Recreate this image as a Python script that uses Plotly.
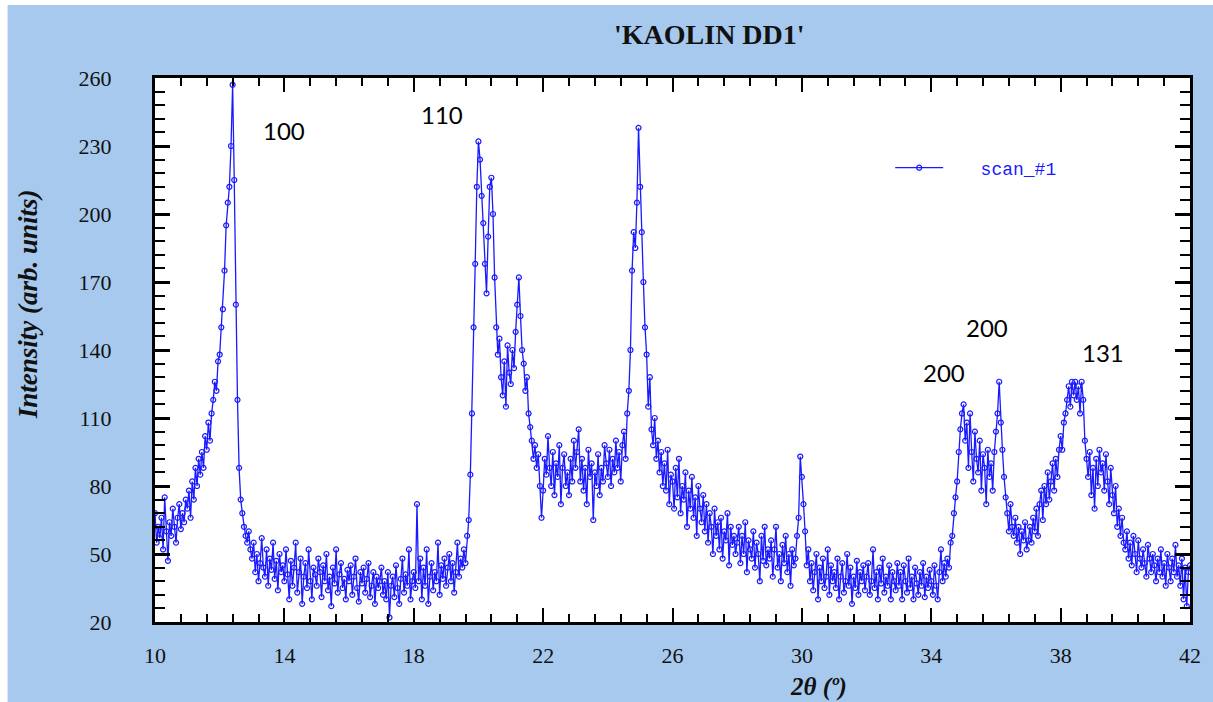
import numpy as np
import plotly.graph_objects as go

# ---- data: XRD scan, 2theta from 10 to 42 deg, step 0.05 ----
theta_start = 10.0
theta_step = 0.05

i10 = [68, 55, 62, 57, 66, 52, 75, 60, 47, 64, 58, 70, 62, 55, 66, 72, 61, 68, 64, 74]
i11 = [70, 78, 66, 82, 74, 88, 80, 92, 85, 95, 88, 102, 96, 108, 100, 112, 118, 126, 122, 135]
i12 = [138, 150, 158, 175, 195, 205, 212, 230, 257, 215, 160, 118, 88, 74, 68, 62, 58, 55, 60, 52]
i13 = [48, 55, 42, 50, 38, 46, 57, 44, 40, 52, 36, 48, 43, 55, 39, 47, 34, 50, 42, 45]
i14 = [38, 52, 41, 30, 47, 36, 44, 55, 33, 42, 48, 28, 40, 46, 35, 52, 38, 30, 44, 41]
i15 = [36, 48, 42, 31, 45, 38, 50, 34, 40, 27, 44, 37, 52, 33, 41, 46, 35, 39, 30, 43]
i16 = [38, 45, 32, 40, 48, 35, 29, 42, 37, 44, 33, 39, 46, 31, 36, 42, 28, 40, 35, 38]
i17 = [44, 32, 38, 30, 42, 22, 36, 40, 31, 45, 35, 28, 39, 48, 33, 41, 36, 52, 30, 38]
i18 = [42, 35, 72, 38, 48, 30, 44, 36, 52, 28, 40, 46, 34, 42, 38, 55, 32, 45, 39, 48]
i19 = [36, 44, 50, 38, 46, 33, 42, 55, 40, 48, 44, 52, 46, 58, 65, 85, 112, 150, 178, 212]
i20 = [232, 224, 208, 196, 178, 165, 190, 212, 216, 200, 172, 150, 138, 145, 128, 120, 135, 115, 142, 130]
i21 = [125, 140, 132, 148, 160, 172, 155, 140, 134, 122, 128, 112, 106, 100, 92, 98, 88, 94, 80, 66]
i22 = [78, 92, 85, 102, 88, 80, 95, 76, 90, 84, 98, 72, 88, 94, 80, 86, 76, 92, 82, 100]
i23 = [88, 95, 105, 82, 92, 78, 88, 72, 96, 84, 90, 65, 86, 80, 94, 76, 88, 82, 98, 90]
i24 = [84, 96, 80, 92, 86, 100, 88, 95, 82, 98, 104, 92, 112, 122, 140, 175, 192, 185, 205, 238]
i25 = [212, 192, 170, 150, 138, 115, 128, 105, 98, 110, 92, 100, 86, 95, 80, 90, 78, 96, 72, 85]
i26 = [82, 70, 88, 75, 92, 68, 80, 74, 86, 62, 78, 70, 84, 66, 75, 58, 80, 70, 64, 76]
i27 = [60, 72, 55, 68, 62, 50, 70, 58, 64, 52, 66, 48, 60, 56, 68, 45, 62, 54, 58, 50]
i28 = [55, 62, 46, 58, 50, 64, 42, 56, 52, 48, 60, 44, 55, 50, 38, 58, 47, 62, 45, 52]
i29 = [48, 56, 40, 52, 62, 44, 50, 38, 54, 46, 58, 42, 50, 36, 52, 45, 48, 58, 66, 93]
i30 = [84, 72, 60, 45, 52, 38, 46, 34, 42, 50, 30, 44, 38, 48, 35, 40, 52, 32, 45, 38]
i31 = [42, 35, 48, 30, 40, 46, 33, 38, 50, 36, 44, 28, 40, 35, 47, 32, 42, 38, 45, 34]
i32 = [40, 46, 32, 38, 52, 35, 42, 30, 44, 37, 48, 33, 40, 36, 45, 30, 42, 38, 34, 46]
i33 = [36, 42, 30, 45, 38, 33, 48, 35, 40, 30, 44, 37, 32, 42, 36, 46, 31, 40, 35, 43]
i34 = [38, 32, 45, 36, 30, 42, 52, 38, 46, 40, 48, 44, 55, 58, 68, 75, 82, 95, 105, 112]
i35 = [116, 100, 108, 88, 112, 95, 82, 104, 92, 86, 100, 78, 94, 88, 72, 96, 84, 90, 78, 95]
i36 = [104, 112, 126, 108, 96, 84, 75, 68, 60, 72, 62, 58, 66, 55, 62, 50, 60, 56, 64, 52]
i37 = [56, 62, 55, 66, 60, 70, 58, 72, 78, 65, 80, 72, 86, 74, 82, 90, 78, 92, 84, 96]
i38 = [102, 96, 108, 112, 118, 124, 115, 126, 120, 126, 118, 124, 112, 126, 118, 100, 92, 84, 95, 76]
i39 = [88, 70, 92, 80, 96, 86, 90, 78, 94, 82, 72, 88, 76, 68, 80, 62, 70, 58, 66, 55]
i40 = [52, 60, 48, 55, 45, 58, 50, 42, 56, 48, 44, 52, 46, 40, 54, 48, 42, 50, 45, 38]
i41 = [48, 42, 52, 40, 46, 36, 50, 44, 38, 48, 42, 54, 40, 45, 36, 48, 30, 44, 27, 42]
i42 = [45]

intensity = (i10 + i11 + i12 + i13 + i14 + i15 + i16 + i17 + i18 + i19 + i20 + i21 + i22
             + i23 + i24 + i25 + i26 + i27 + i28 + i29 + i30 + i31 + i32 + i33 + i34 + i35
             + i36 + i37 + i38 + i39 + i40 + i41 + i42)
two_theta = np.round(theta_start + theta_step * np.arange(len(intensity)), 2)

peak_labels = ["100", "110", "200", "200", "131"]
peak_label_x = [13.98, 18.88, 35.72, 34.40, 39.30]
peak_label_y = [237, 244, 150, 130, 139]

BLUE = "#1a1aff"
BG = "#a8c9ee"
SERIF = "Liberation Serif"

fig = go.Figure()
fig.add_trace(go.Scatter(
    x=two_theta, y=intensity, mode="lines+markers", name="&nbsp;&nbsp;&nbsp;scan_#1",
    line=dict(color=BLUE, width=1.3),
    marker=dict(symbol="circle-open", size=5, color=BLUE, line=dict(width=1.2, color=BLUE)),
))

for t, xx, yy in zip(peak_labels, peak_label_x, peak_label_y):
    fig.add_annotation(x=xx, y=yy, text=t, showarrow=False, xanchor="center", yanchor="middle",
                       font=dict(family="Lato", size=24, color="#000"))

axis_font = dict(family=SERIF, size=22, color="#111")

fig.update_xaxes(
    range=[10, 42], tick0=10, dtick=4, ticks="inside", ticklen=14, tickwidth=2,
    tickcolor="black", showline=True, linecolor="black", linewidth=3, mirror="ticks",
    showgrid=False, zeroline=False, tickfont=axis_font, ticklabelstandoff=12,
    minor=dict(dtick=0.8, tick0=10, ticks="inside", ticklen=8, tickwidth=1.5,
               tickcolor="black", showgrid=False),
)
fig.update_yaxes(
    range=[20, 260], tick0=20, dtick=30, ticks="inside", ticklen=15, tickwidth=2.5,
    tickcolor="black", showline=True, linecolor="black", linewidth=3, mirror="ticks",
    showgrid=False, zeroline=False, tickfont=axis_font, ticklabelstandoff=36,
    minor=dict(dtick=6, tick0=20, ticks="inside", ticklen=10, tickwidth=1.5,
               tickcolor="black", showgrid=False),
)

# axis titles and chart title
fig.add_annotation(xref="paper", yref="paper", x=(826 - 155) / 1046, y=(622 - 687) / 544,
                   xanchor="center", yanchor="middle",
                   text="2θ (º)", showarrow=False,
                   font=dict(family=SERIF, size=25, color="#111", weight="bold", style="italic"))
fig.add_annotation(xref="paper", yref="paper", x=(27 - 155) / 1046, y=(622 - 304) / 544,
                   xanchor="center", yanchor="middle",
                   text="Intensity (arb. units)", showarrow=False, textangle=-90,
                   font=dict(family=SERIF, size=27, color="#111", weight="bold", style="italic"))
fig.add_annotation(xref="paper", yref="paper", x=(715 - 155) / 1046, y=(622 - 35) / 544,
                   xanchor="center", yanchor="middle",
                   text="'KAOLIN DD1'", showarrow=False,
                   font=dict(family=SERIF, size=28, color="#111", weight="bold"))

# white strips along the image's top and left edges
fig.add_shape(type="rect", xref="paper", yref="paper", x0=-0.2, x1=1.2,
              y0=(622 - 5) / 544, y1=1.2, fillcolor="white", line_width=0, layer="below")
fig.add_shape(type="rect", xref="paper", yref="paper", x0=-0.2, x1=(6 - 155) / 1046,
              y0=-0.3, y1=1.2, fillcolor="white", line_width=0, layer="below")

fig.update_layout(
    width=1213, height=702,
    margin=dict(l=155, r=12, t=78, b=80),
    paper_bgcolor=BG, plot_bgcolor="white",
    showlegend=True,
    legend=dict(x=(898 - 155) / 1046, y=(622 - 168) / 544, xanchor="left", yanchor="middle",
                bgcolor="rgba(0,0,0,0)",
                font=dict(family="Liberation Mono", size=18, color=BLUE),
                itemwidth=48),
)

fig.write_html("out.html")
